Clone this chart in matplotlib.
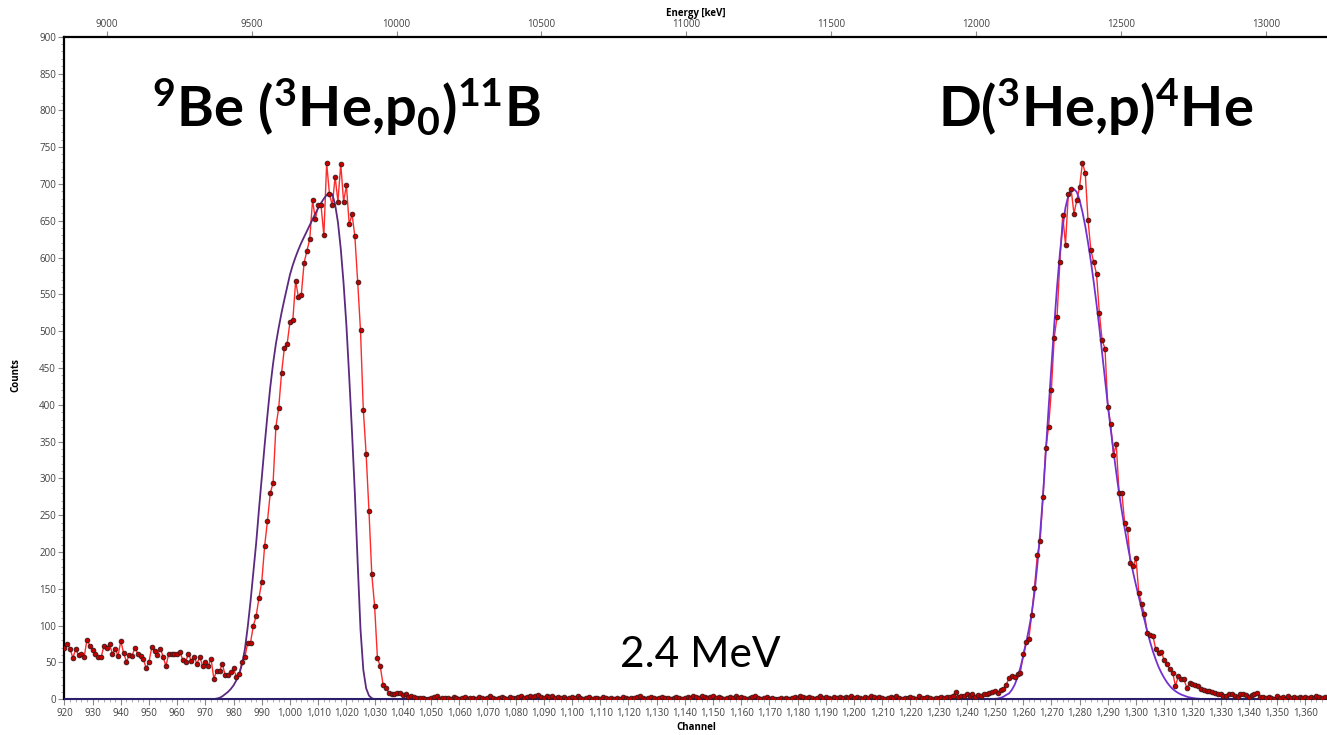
import numpy as np
import matplotlib.pyplot as plt
from matplotlib.ticker import MultipleLocator, FuncFormatter

# ---------------------------------------------------------------------------
# DATA (counts per channel)
# ---------------------------------------------------------------------------
first_channel = 920

# 920 - 979 : low-energy background
counts_bg = [70, 75, 69, 56, 68, 60, 62, 57, 81, 73,
             67, 62, 57, 57, 72, 70, 75, 62, 68, 59,
             79, 63, 51, 60, 59, 70, 62, 59, 55, 42,
             51, 71, 65, 60, 69, 58, 45, 62, 62, 61,
             61, 64, 53, 51, 62, 52, 58, 48, 58, 45,
             51, 45, 55, 28, 39, 38, 48, 33, 33, 37]
# 980 - 1037 : 9Be(3He,p0)11B peak
counts_be = [42, 30, 35, 51, 57, 77, 77, 100, 113, 138,
             160, 208, 242, 280, 294, 370, 396, 443, 477, 483,
             513, 515, 568, 546, 549, 593, 609, 625, 678, 652,
             671, 671, 630, 728, 686, 671, 710, 676, 727, 676,
             698, 645, 659, 629, 567, 501, 393, 333, 256, 170,
             127, 56, 45, 20, 16, 9, 7, 7]
# 1038 - 1250 : flat region between the peaks
counts_mid = [8, 9, 6, 7, 3, 5, 3, 2, 2, 2, 1, 1, 2, 3, 5, 1, 2, 2,
              2, 1, 3, 2, 1, 2, 3, 1, 2, 2, 1, 3, 2, 1, 2, 4, 2, 1, 2, 3,
              2, 1, 3, 2, 2, 3, 4, 2, 3, 5, 3, 4, 6, 3, 2, 4, 3, 5, 2, 3,
              2, 3, 1, 2, 3, 2, 4, 2, 1, 2, 3, 1, 2, 2, 1, 3, 2, 1, 2, 1,
              2, 1, 3, 2, 1, 2, 2, 3, 4, 2, 1, 2, 3, 2, 1, 2, 3, 2, 2, 1,
              2, 3, 2, 1, 2, 3, 2, 4, 3, 2, 5, 3, 2, 3, 4, 2, 3, 2, 1, 2,
              3, 2, 4, 2, 3, 2, 1, 2, 3, 4, 2, 1, 2, 3, 1, 2, 1, 1, 2, 1,
              2, 1, 2, 3, 2, 4, 3, 2, 3, 2, 1, 2, 4, 2, 3, 2, 1, 3, 2, 3,
              2, 3, 2, 4, 2, 3, 2, 1, 3, 2, 4, 3, 2, 3, 2, 1, 2, 3, 2, 4,
              2, 1, 2, 2, 3, 2, 1, 4, 2, 2, 3, 2, 1, 2, 2,
              3.8, 1.3, 2.7, 3.8, 4.5, 9.9, 3.6, 4, 4.5, 6.8,
              5, 7.7, 3.6, 5.4, 5, 6.8, 7.7, 8.6, 9.5, 11.3]
# 1251 - 1346 : D(3He,p)4He peak
counts_d = [9, 12.5, 13.4, 20, 29, 31.7, 30.7, 34.6, 36, 61.5,
            77.3, 82.2, 114.4, 151.4, 195.6, 214.9, 275, 340.8, 369.7, 420.6,
            491.3, 519.2, 594.2, 657.6, 617.7, 686, 692.7, 659.6, 677.8, 696.1,
            728.8, 714.9, 650.4, 610, 594.2, 577.8, 525, 487.4, 476.4, 397.5,
            374, 331.7, 346.1, 280.7, 279.8, 238.9, 231.7, 184.6, 180.7, 191.8,
            144, 129.5, 115.9, 89.6, 87.8, 86, 67.9, 62.5, 63.8, 53.4,
            47.5, 40.7, 36.2, 18.1, 31.7, 27.6, 27.1, 15.8, 21.7, 20.8,
            19.9, 18.6, 13.6, 12.7, 11.7, 10.8, 9.9, 8.6, 7.7, 6.8,
            5, 4.1, 7.7, 6.8, 5, 3.6, 7.2, 6.8, 5.4, 2.7,
            5.4, 6.8, 9, 3.2, 3.6, 2.3]
# 1347 - 1368 : high-energy tail
counts_tail = [3, 2, 1, 4, 2, 3, 1, 4, 2, 3, 2,
               3, 2, 3, 2, 3, 2, 4, 3, 2, 3, 2]

counts = counts_bg + counts_be + counts_mid + counts_d + counts_tail
channels = np.arange(first_channel, first_channel + len(counts))

# fitted peak shapes (per channel)
fit_be_start = 972
fit_be = [0, 0.3, 1, 2, 4, 7, 10, 14, 19, 26,
          34, 48, 68, 98, 133, 172, 212, 258, 302, 345,
          386, 424, 456, 483, 505, 525, 543, 560, 577, 590,
          601, 611, 620, 628, 636, 644, 652, 660, 667, 674,
          680, 685, 688, 686, 672, 648, 612, 565, 508, 438,
          362, 280, 185, 95, 40, 15, 5, 1.5, 0]
fit_d_start = 1248
fit_d = [0, 0.3, 0.6, 1, 2, 3.5, 6,
         8, 13, 20, 30, 43, 58, 76, 95, 116, 145,
         182, 225, 275, 335, 395, 452, 508, 560, 605, 642,
         668, 684, 692, 693, 689, 678, 662, 643, 620, 595,
         567, 537, 505, 470, 435, 400, 368, 338, 308, 280,
         255, 232, 210, 190, 172, 155, 139, 123, 108, 92,
         78, 65, 54, 44, 36, 29, 23, 18, 14, 11,
         8.5, 6.5, 5, 3.6, 2.6, 1.8, 1.2, 0.8, 0.5, 0.3,
         0.2, 0.1, 0]

energy_ticks = [9000, 9500, 10000, 10500, 11000, 11500, 12000, 12500, 13000]

# energy calibration of the top axis (keV = e0 + gain * (channel - 920))
e0, gain = 8854.0, 9.73

# ---------------------------------------------------------------------------
plt.rcParams['mathtext.fontset'] = 'custom'
plt.rcParams['mathtext.rm'] = 'Lato:bold'
plt.rcParams['mathtext.it'] = 'Lato:bold'
plt.rcParams['mathtext.bf'] = 'Lato:bold'

W, H = 1327, 735
fig = plt.figure(figsize=(W / 100, H / 100), dpi=100)
left, right, top, bottom = 64.4, 1327.8, 36.7, 699.3
ax = fig.add_axes([left / W, 1 - bottom / H, (right - left) / W, (bottom - top) / H])

fit_be_full = np.zeros(len(channels))
fit_be_full[fit_be_start - first_channel:fit_be_start - first_channel + len(fit_be)] = fit_be
fit_d_full = np.zeros(len(channels))
fit_d_full[fit_d_start - first_channel:fit_d_start - first_channel + len(fit_d)] = fit_d

ax.plot(channels, counts, color='#ff2a2a', lw=1.0, zorder=2)
ax.plot(channels, fit_be_full, color='#5b2a80', lw=1.3, zorder=3)
ax.plot(channels, fit_d_full, color='#7431d0', lw=1.3, zorder=3)
ax.plot(channels, np.zeros(len(channels)), color='#2c1f6a', lw=1.5, zorder=3)
ax.plot(channels, counts, ls='none', marker='o', ms=3.4, mfc='#c00000',
        mec='#3a1818', mew=0.6, zorder=4)

ax.set_xlim(920, 920 + (right - left) / 2.82)
ax.set_ylim(0, 900)

tick_col = '#404040'
ax.xaxis.set_major_locator(MultipleLocator(10))
ax.xaxis.set_minor_locator(MultipleLocator(2))
ax.xaxis.set_major_formatter(FuncFormatter(lambda v, p: f"{int(round(v)):,}"))
ax.yaxis.set_major_locator(MultipleLocator(50))
ax.yaxis.set_minor_locator(MultipleLocator(10))
ax.tick_params(axis='both', which='major', labelsize=7, colors='#8a8a8a',
               labelcolor=tick_col, length=4, width=0.8, pad=2)
ax.tick_params(axis='both', which='minor', colors='#a0a0a0', length=2.5, width=0.6)
for lab in ax.get_xticklabels() + ax.get_yticklabels():
    lab.set_family('Open Sans')

for side in ['left', 'top']:
    ax.spines[side].set_color('black')
    ax.spines[side].set_linewidth(1.6)
ax.spines['bottom'].set_color('#2c1f6a')
ax.spines['right'].set_visible(False)

ax.set_xlabel('Channel', fontsize=7, fontweight='bold', family='Open Sans')
ax.xaxis.set_label_coords(0.5, -0.034)
ax.set_ylabel('Counts', fontsize=7, fontweight='bold', family='Open Sans')
ax.yaxis.set_label_coords(-0.034, 0.49)

sec = ax.secondary_xaxis('top', functions=(lambda c: e0 + gain * (c - 920),
                                            lambda e: 920 + (e - e0) / gain))
sec.set_xticks(energy_ticks)
sec.tick_params(labelsize=7, colors='#8a8a8a', labelcolor=tick_col, length=4, width=0.8, pad=1)
for lab in sec.get_xticklabels():
    lab.set_family('Open Sans')
sec.spines['top'].set_visible(False)
sec.set_xlabel('Energy [keV]', fontsize=7, fontweight='bold', family='Open Sans', labelpad=2)

fig.text(152 / W, 1 - 127 / H, r'$^{9}$Be ($^{3}$He,p$_{0}$)$^{11}$B', family='Lato',
         fontweight='bold', fontsize=40.5, va='baseline', ha='left')
fig.text(938 / W, 1 - 127 / H, r'D($^{3}$He,p)$^{4}$He', family='Lato',
         fontweight='bold', fontsize=40.5, va='baseline', ha='left')
fig.text(620 / W, 1 - 667 / H, '2.4 MeV', family='Lato', fontsize=30.5,
         va='baseline', ha='left')

fig.savefig('out.png', dpi=100)
